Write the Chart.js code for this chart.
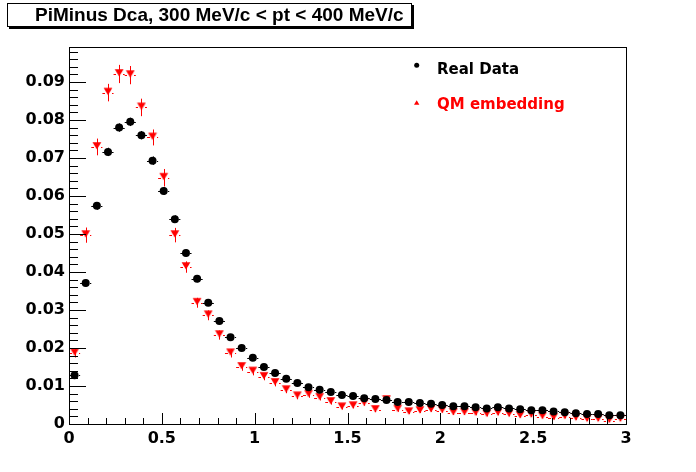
<!DOCTYPE html>
<html><head><meta charset="utf-8">
<script src="https://cdn.jsdelivr.net/npm/chart.js@4/dist/chart.umd.min.js"></script>
<style>html,body{margin:0;padding:0;background:#fff;}</style>
</head><body><canvas id="c" width="696" height="472"></canvas>
<script>
const titleText = "PiMinus Dca, 300 MeV/c < pt < 400 MeV/c";
const seriesNames = ["Real Data", "QM embedding"];
const binHalfWidth = 0.03;
const binCenters = [0.03,0.09,0.15,0.21,0.27,0.33,0.39,0.45,0.51,0.57,
  0.63,0.69,0.75,0.81,0.87,0.93,0.99,1.05,1.11,1.17,
  1.23,1.29,1.35,1.41,1.47,1.53,1.59,1.65,1.71,1.77,
  1.83,1.89,1.95,2.01,2.07,2.13,2.19,2.25,2.31,2.37,
  2.43,2.49,2.55,2.61,2.67,2.73,2.79,2.85,2.91,2.97];
const realData = [0.0128,0.0371,0.0574,0.0716,0.0780,0.0795,0.0760,0.0693,0.0613,0.0539,
  0.0450,0.0382,0.0319,0.0271,0.0228,0.0200,0.0174,0.0150,0.0134,0.0119,
  0.0108,0.0097,0.0090,0.0084,0.0076,0.0074,0.0068,0.0066,0.0063,0.0058,
  0.0058,0.0055,0.0053,0.0050,0.0047,0.0047,0.0044,0.0041,0.0044,0.0041,
  0.0039,0.0036,0.0036,0.0033,0.0031,0.0028,0.0026,0.0026,0.0023,0.0023];
const realErr = [0.0006,0.0009,0.0010,0.0011,0.0011,0.0011,0.0011,0.0011,0.0010,0.0010,
  0.0009,0.0009,0.0008,0.0008,0.0007,0.0007,0.0006,0.0006,0.0006,0.0006,
  0.0005,0.0005,0.0005,0.0005,0.0005,0.0005,0.0004,0.0004,0.0004,0.0004,
  0.0004,0.0004,0.0004,0.0004,0.0004,0.0004,0.0004,0.0003,0.0003,0.0003,
  0.0003,0.0003,0.0003,0.0003,0.0003,0.0003,0.0003,0.0003,0.0003,0.0003];
const qmData = [0.0186,0.0497,0.0729,0.0872,0.0921,0.0918,0.0833,0.0754,0.0648,0.0497,
  0.0413,0.0319,0.0286,0.0234,0.0186,0.0150,0.0138,0.0124,0.0108,0.0089,
  0.0073,0.0077,0.0069,0.0058,0.0044,0.0047,0.0054,0.0037,0.0063,0.0038,
  0.0031,0.0034,0.0037,0.0035,0.0029,0.0029,0.0028,0.0025,0.0028,0.0025,
  0.0021,0.0023,0.0019,0.0016,0.0019,0.0015,0.0012,0.0012,0.0009,0.0012];
const qmErr = [0.0011,0.0020,0.0022,0.0023,0.0024,0.0024,0.0023,0.0021,0.0023,0.0019,
  0.0015,0.0013,0.0013,0.0012,0.0011,0.0010,0.0010,0.0009,0.0009,0.0008,
  0.0008,0.0008,0.0007,0.0007,0.0006,0.0006,0.0006,0.0006,0.0006,0.0006,
  0.0005,0.0005,0.0005,0.0005,0.0005,0.0005,0.0005,0.0005,0.0005,0.0005,
  0.0004,0.0004,0.0004,0.0004,0.0004,0.0004,0.0004,0.0004,0.0004,0.0004];
const xTickStep = 0.5, xMinorStep = 0.1, yTickStep = 0.01, yMinorStep = 0.002;

const tri = document.createElement('canvas');
tri.width = 10; tri.height = 14;
(function(){const t=tri.getContext('2d');t.fillStyle='#ff0000';t.beginPath();
 t.moveTo(0.6,2.3);t.lineTo(9.4,2.3);t.lineTo(5,9.4);t.closePath();t.fill();})();

const errPlugin = {
  id:'errbars',
  beforeDatasetsDraw(chart){
    const ctx=chart.ctx, xs=chart.scales.x, ys=chart.scales.y;
    ctx.save();
    for(let d=chart.data.datasets.length-1; d>=0; d--){
      const ds=chart.data.datasets[d];
      ctx.strokeStyle=ds.errColor; ctx.lineWidth=1;
      ds.data.forEach((p,i)=>{
        const px=Math.round(xs.getPixelForValue(p.x))+0.5;
        const py=Math.round(ys.getPixelForValue(p.y))+0.5;
        const e=ds.errY[i];
        ctx.setLineDash([]);
        ctx.beginPath();
        ctx.moveTo(px, ys.getPixelForValue(p.y+e));
        ctx.lineTo(px, ys.getPixelForValue(p.y-e));
        ctx.stroke();
        ctx.setLineDash(ds.errDash);
        const xl=xs.getPixelForValue(p.x-binHalfWidth), xr=xs.getPixelForValue(p.x+binHalfWidth);
        ctx.beginPath();
        ctx.moveTo(xl,py); ctx.lineTo(px-3.5,py);
        ctx.moveTo(px+3.5,py); ctx.lineTo(xr,py);
        ctx.stroke();
      });
    }
    ctx.setLineDash([]);
    ctx.restore();
  }
};

function drawRootAxes(chart){
  const ctx=chart.ctx, a=chart.chartArea, xs=chart.scales.x, ys=chart.scales.y;
  ctx.save();
  ctx.setLineDash([]);
  ctx.globalAlpha=1;
  ctx.globalCompositeOperation='source-over';
  ctx.fillStyle='#000000';
  const L=Math.round(a.left), R=Math.round(a.right), T=Math.round(a.top), B=Math.round(a.bottom);
  ctx.fillRect(L, T, R-L+1, 1);
  ctx.fillRect(R, T, 1, B-T+1);
  ctx.fillRect(L, T, 1, B-T+1);
  ctx.fillRect(L, B, R-L+1, 1);
  for(let v=0; v<=3.0001; v+=xMinorStep){
    const px=Math.round(xs.getPixelForValue(v));
    const major=Math.abs(v/xTickStep-Math.round(v/xTickStep))<1e-6;
    const len=major?11:6;
    ctx.fillRect(px, B-len, 1, len);
  }
  for(let v=0; v<=0.0992; v+=yMinorStep){
    const py=Math.round(ys.getPixelForValue(v));
    const major=Math.abs(v/yTickStep-Math.round(v/yTickStep))<1e-6;
    const len=major?17:9;
    ctx.fillRect(L, py, len, 1);
  }
  ctx.restore();
}

const axesPlugin = {
  id:'rootaxes',
  afterDatasetsDraw(chart){ drawRootAxes(chart); },
  afterDraw(chart){ drawRootAxes(chart); }
};

const decoPlugin = {
  id:'rootdeco',
  afterDraw(chart){
    const ctx=chart.ctx;
    ctx.save();
    ctx.fillStyle='#000';
    ctx.fillRect(9,27,405,2); ctx.fillRect(412,5,2,24);
    ctx.fillStyle='#fff'; ctx.fillRect(7,3,405,24);
    ctx.fillStyle='#000';
    ctx.fillRect(7,3,405,1); ctx.fillRect(7,26,405,1); ctx.fillRect(7,3,1,24); ctx.fillRect(411,3,1,24);
    ctx.font='bold 19px "Liberation Sans", Arial, sans-serif';
    ctx.textAlign='left'; ctx.textBaseline='alphabetic';
    ctx.fillText(titleText, 35, 21);
    ctx.beginPath(); ctx.arc(416.7,65.2,2.5,0,Math.PI*2); ctx.fill();
    ctx.font='bold 15px "DejaVu Sans", sans-serif';
    ctx.fillText(seriesNames[0], 437, 74);
    ctx.fillStyle='#ff0000';
    ctx.beginPath(); ctx.moveTo(416.7,100.2); ctx.lineTo(419.4,104.8); ctx.lineTo(414.0,104.8); ctx.closePath(); ctx.fill();
    ctx.fillText(seriesNames[1], 437, 108.7);
    ctx.restore();
  }
};

const tickFont = {family:'"DejaVu Sans", sans-serif', weight:'bold', size:16};
new Chart(document.getElementById('c'), {
  type:'scatter',
  data:{datasets:[
    {label:seriesNames[0], data:binCenters.map((x,i)=>({x, y:realData[i]})),
     pointStyle:'circle', pointRadius:4, pointHoverRadius:4, backgroundColor:'#000', borderColor:'#000', borderWidth:0,
     errY:realErr, errColor:'#000', errDash:[]},
    {label:seriesNames[1], data:binCenters.map((x,i)=>({x, y:qmData[i]})),
     pointStyle:tri, pointRadius:5, backgroundColor:'#ff0000', borderColor:'#ff0000', borderWidth:0,
     errY:qmErr, errColor:'#ff0000', errDash:[3,2]}
  ]},
  options:{
    responsive:false, animation:false, devicePixelRatio:1,
    layout:{padding:{left:0,right:70,top:47,bottom:0}},
    plugins:{legend:{display:false}, tooltip:{enabled:false}, title:{display:false}},
    scales:{
      x:{type:'linear', min:0, max:3, grid:{display:false, drawTicks:false},
         border:{display:false},
         ticks:{stepSize:xTickStep, includeBounds:false, padding:5, color:'#000', font:tickFont, maxRotation:0,
                callback:v=>String(Math.round(v*10)/10)},
         afterFit:s=>{s.height=48;}},
      y:{type:'linear', min:0, max:0.0992, grid:{display:false, drawTicks:false},
         border:{display:false},
         ticks:{stepSize:yTickStep, includeBounds:false, padding:4, color:'#000', font:tickFont,
                callback:v=>v===0?'0':(Math.round(v*100)/100).toFixed(2)},
         afterFit:s=>{s.width=69;}}
    }
  },
  plugins:[errPlugin, axesPlugin, decoPlugin]
});
</script></body></html>
